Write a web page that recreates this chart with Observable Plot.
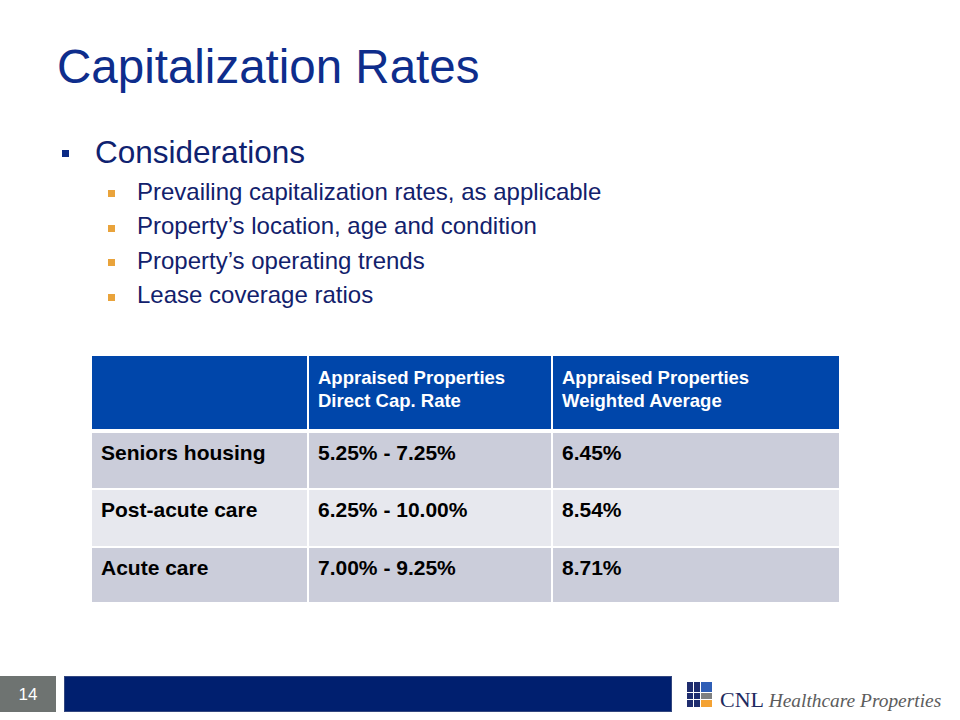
<!DOCTYPE html>
<html>
<head>
<meta charset="utf-8">
<script src="https://cdn.jsdelivr.net/npm/d3@7"></script>
<script src="https://cdn.jsdelivr.net/npm/@observablehq/plot@0.6"></script>
<style>
  html, body { margin: 0; padding: 0; background: #ffffff; }
  #slide { position: relative; width: 960px; height: 720px; overflow: hidden; font-family: "Liberation Sans", Arial, sans-serif; }
  .abs { position: absolute; white-space: nowrap; line-height: 1; }
  #title { left: 57px; top: 42.8px; font-size: 47.5px; color: #0E2D8C; }
  #main-bullet { left: 62px; top: 150px; width: 7px; height: 7px; background: #0B2A85; }
  #main-text { left: 95px; top: 137.3px; font-size: 31.5px; color: #0F2270; }
  .sub-bullet { position: absolute; left: 108px; width: 7px; height: 7px; background: #E9A33B; }
  .sub-text { font-size: 24px; color: #12216C; left: 137px; }
  #table { position: absolute; left: 0; top: 350px; }
  #pagebox { left: 0; top: 676px; width: 56px; height: 36px; background: #6E7371; }
  #pagenum { left: 0; top: 685.6px; width: 56px; text-align: center; font-size: 17px; color: #ffffff; }
  #bar { left: 64px; top: 676px; width: 608px; height: 36px; background: #001F6F; box-shadow: inset 0 0 0 1px #33477f; }
  #logo-text { left: 720px; top: 688.6px; font-family: "Liberation Serif", "Times New Roman", serif; font-size: 22px; line-height: 22px; }
  #logo-text .cnl { color: #1E2A60; }
  #logo-text .hp { color: #5C5C5C; font-style: italic; font-size: 19.4px; }
  .lg { position: absolute; }
</style>
</head>
<body>
<div id="slide">
  <div id="title" class="abs"></div>
  <div id="main-bullet" class="abs"></div>
  <div id="main-text" class="abs"></div>
  <div id="subs"></div>
  <div id="table"></div>
  <div id="pagebox" class="abs"></div>
  <div id="pagenum" class="abs"></div>
  <div id="bar" class="abs"></div>
  <div id="logo"></div>
  <div id="logo-text" class="abs"><span class="cnl">CNL</span> <span class="hp">Healthcare Properties</span></div>
</div>
<script>
// ---------- data ----------
const slideTitle = "Capitalization Rates";
const mainPoint = "Considerations";
const considerations = [
  "Prevailing capitalization rates, as applicable",
  "Property\u2019s location, age and condition",
  "Property\u2019s operating trends",
  "Lease coverage ratios"
];
const columnHeaders = [
  "",
  "Appraised Properties\nDirect Cap. Rate",
  "Appraised Properties\nWeighted Average"
];
const categories = ["Seniors housing", "Post-acute care", "Acute care"];
const capRateRanges = ["5.25% - 7.25%", "6.25% - 10.00%", "7.00% - 9.25%"];
const weightedAverages = ["6.45%", "8.54%", "8.71%"];
const pageNumber = "14";

// ---------- layout (slide pixels) ----------
const colEdges = [[92, 307], [309, 551], [553, 839]];
const headerBand = [356, 429];
const rowBands = [[433, 488], [490, 546], [548, 602]];
const padX = 8.5;
const headerCapTop = 367;
const rowBaselineOffset = 26;
const subBaselines = [200, 234.5, 269, 303.5];

// ---------- text blocks ----------
document.getElementById("title").textContent = slideTitle;
document.getElementById("main-text").textContent = mainPoint;
document.getElementById("pagenum").textContent = pageNumber;
const subs = document.getElementById("subs");
considerations.forEach((t, i) => {
  const b = document.createElement("div");
  b.className = "sub-bullet";
  b.style.top = (subBaselines[i] - 10) + "px";
  subs.appendChild(b);
  const d = document.createElement("div");
  d.className = "abs sub-text";
  d.style.top = (subBaselines[i] - 0.8465 * 24) + "px";
  d.textContent = t;
  subs.appendChild(d);
});

// ---------- table via Plot ----------
const headerCells = colEdges.map(([x1, x2]) => ({x1, x2, y1: headerBand[0], y2: headerBand[1]}));
const bodyCells = [];
colEdges.forEach(([x1, x2]) => {
  rowBands.forEach(([y1, y2], r) => bodyCells.push({x1, x2, y1, y2, odd: r % 2 === 1}));
});
const headerTexts = columnHeaders.map((text, c) => ({x: colEdges[c][0] + padX, y: headerCapTop, text}));
const columnsData = [categories, capRateRanges, weightedAverages];
const bodyTexts = [];
columnsData.forEach((col, c) => {
  col.forEach((text, r) => bodyTexts.push({x: colEdges[c][0] + padX, y: rowBands[r][0] + rowBaselineOffset, text}));
});

const chart = Plot.plot({
  width: 960,
  height: 260,
  margin: 0,
  x: {type: "linear", domain: [0, 960], range: [0, 960], axis: null},
  y: {type: "linear", domain: [350, 610], range: [0, 260], axis: null},
  style: {fontFamily: "'Liberation Sans', Arial, sans-serif", background: "transparent", overflow: "visible"},
  marks: [
    Plot.rect(headerCells, {x1: "x1", x2: "x2", y1: "y1", y2: "y2", fill: "#0046AA"}),
    Plot.rect(bodyCells.filter(d => !d.odd), {x1: "x1", x2: "x2", y1: "y1", y2: "y2", fill: "#CBCDDA"}),
    Plot.rect(bodyCells.filter(d => d.odd), {x1: "x1", x2: "x2", y1: "y1", y2: "y2", fill: "#E7E8EE"}),
    Plot.text(headerTexts, {x: "x", y: "y", text: "text", textAnchor: "start", lineAnchor: "top", lineHeight: 1.243, fill: "#ffffff", fontSize: 18.5, fontWeight: "bold"}),
    Plot.text(bodyTexts, {x: "x", y: "y", text: "text", textAnchor: "start", lineAnchor: "bottom", fill: "#000000", fontSize: 21, fontWeight: "bold"})
  ]
});
document.getElementById("table").appendChild(chart);

// ---------- logo squares ----------
const logo = document.getElementById("logo");
const logoCells = [
  [687, 682, 6, 10, "#1F2D6E"], [694, 682, 6, 10, "#1F2D6E"], [701, 682, 11, 10, "#2F5EB6"],
  [687, 693, 6, 6, "#1F2D6E"], [694, 693, 6, 6, "#1F2D6E"], [701, 693, 11, 6, "#7E8081"],
  [687, 700, 6, 7, "#1F2D6E"], [694, 700, 6, 7, "#1F2D6E"], [701, 700, 11, 7, "#F4A233"]
];
logoCells.forEach(([x, y, w, h, c]) => {
  const d = document.createElement("div");
  d.className = "lg";
  d.style.cssText = `left:${x}px;top:${y}px;width:${w}px;height:${h}px;background:${c}`;
  logo.appendChild(d);
});
</script>
</body>
</html>
